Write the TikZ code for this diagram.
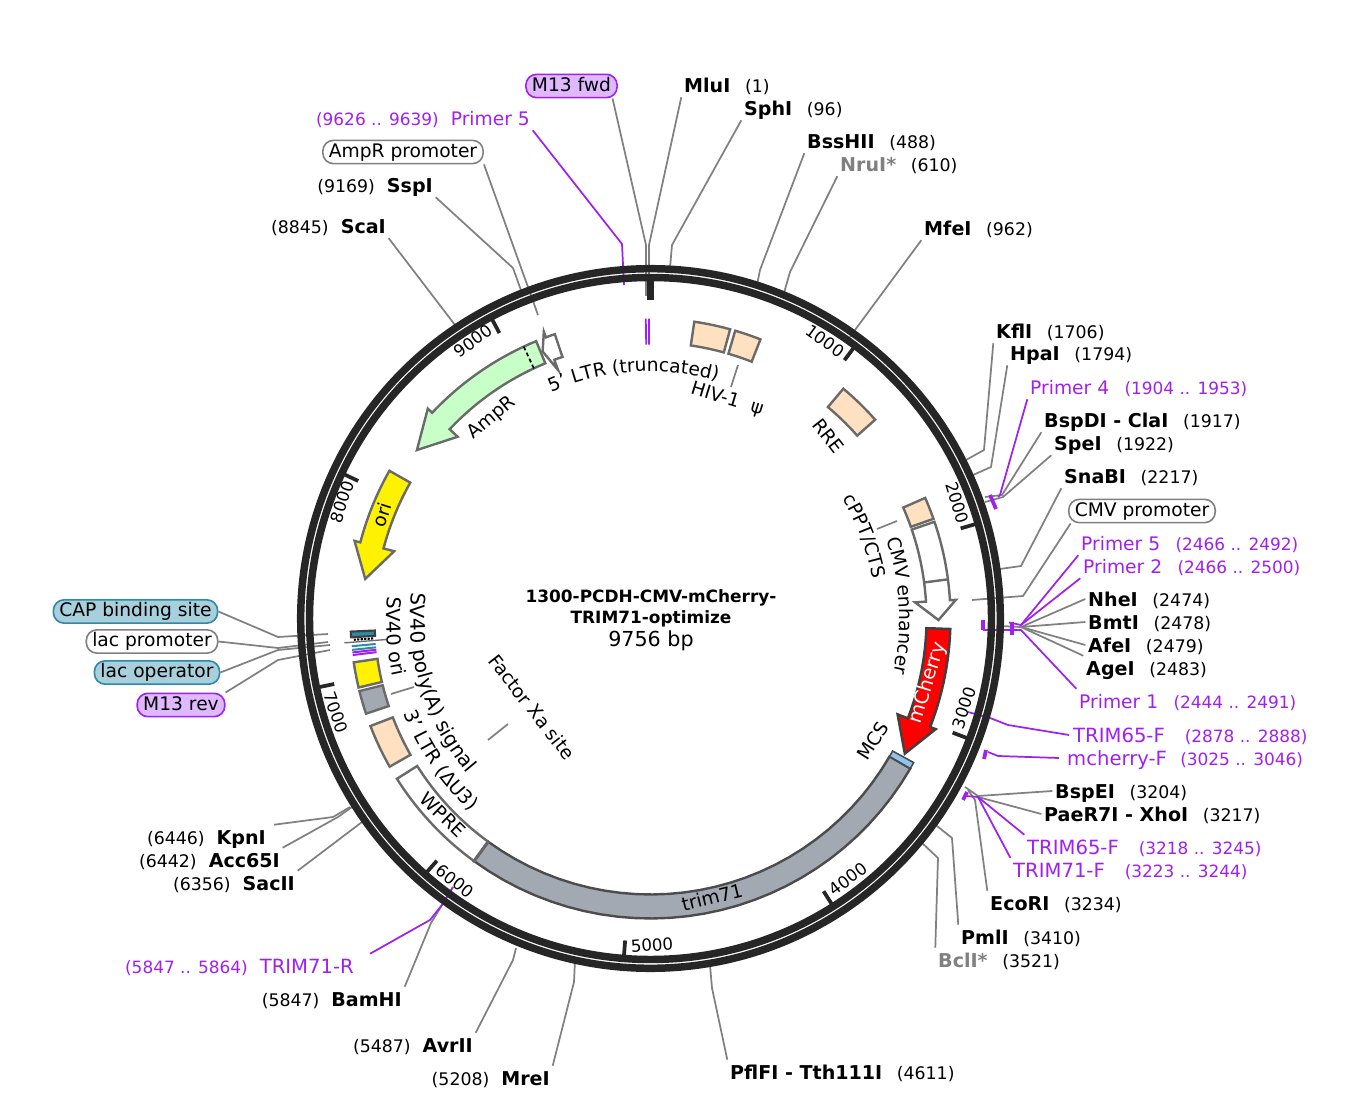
\documentclass[tikz,border=0pt]{standalone}
\usepackage{fontspec}
\setmainfont{DejaVu Sans}
\usetikzlibrary{decorations.text}
\definecolor{leadergray}{HTML}{808080}
\definecolor{primerpurple}{HTML}{A020F0}
\definecolor{strokegray}{HTML}{6A6A6A}
\definecolor{beige}{HTML}{FFE0C0}
\definecolor{ampgreen}{HTML}{C8FFC8}
\definecolor{slategray}{HTML}{A3A9B2}
\definecolor{tealfill}{HTML}{A8CFDC}
\definecolor{tealline}{HTML}{2E8AA5}
\definecolor{pillpurple}{HTML}{E0B8FF}
\definecolor{blueband}{HTML}{8FC4F0}
\newcommand{\ringpt}[2]{({650.5+(#2)*sin(#1)},{618.5-(#2)*cos(#1)})}
\newcommand{\feature}[3][]{\draw[#1] plot[domain=#2:#3,samples=30] ({650.5+300*sin(\x)},{618.5-300*cos(\x)})
    -- plot[domain=#3:#2,samples=30] ({650.5+276*sin(\x)},{618.5-276*cos(\x)}) -- cycle;}
\newcommand{\featurearrow}[4][]{\draw[#1] plot[domain=#2:#3,samples=30] ({650.5+300*sin(\x)},{618.5-300*cos(\x)})
    -- ({650.5+306*sin(#3)},{618.5-306*cos(#3)}) -- ({650.5+288*sin(#4)},{618.5-288*cos(#4)})
    -- ({650.5+265*sin(#3)},{618.5-265*cos(#3)})
    -- plot[domain=#3:#2,samples=30] ({650.5+276*sin(\x)},{618.5-276*cos(\x)}) -- cycle;}
\newcommand{\arctext}[5][14]{\path[decorate,decoration={text along path,text align=center,
    text={|\fontsize{#1}{16}\selectfont|#2}}] plot[domain=#3:#4,samples=40] ({650.5+#5*sin(\x)},{618.5-#5*cos(\x)});}
\newcommand{\posr}[2][11pt]{\hspace{#1}{\mdseries\fontsize{13}{16}\selectfont #2}}
\newcommand{\posl}[2][9pt]{{\mdseries\fontsize{13}{16}\selectfont #2}\hspace{#1}}
\newcommand{\spanr}[2][11.5pt]{\hspace{#1}{\fontsize{12.7}{16}\selectfont #2}}
\newcommand{\spanl}[2][9pt]{{\fontsize{12.7}{16}\selectfont #2}\hspace{#1}}
\tikzset{
    namelab/.style={inner xsep=2pt,inner ysep=0.5pt,text height=14pt,text depth=3pt,font=\fontsize{14}{16}\selectfont},
    siteR/.style={namelab,anchor=west,font=\fontsize{14.3}{16}\selectfont\bfseries},
    siteL/.style={namelab,anchor=east,font=\fontsize{14.3}{16}\selectfont\bfseries},
    primerR/.style={namelab,anchor=west,text=primerpurple},
    primerL/.style={namelab,anchor=east,text=primerpurple},
    trimname/.style={font=\fontsize{14.7}{16}\selectfont},
    pill/.style={draw,rounded corners=8pt,line width=1.2pt,inner xsep=4.5pt,inner ysep=0pt,
        minimum height=17.5pt,text height=11.2pt,text depth=3pt,font=\fontsize{14}{16}\selectfont},
    leader/.style={draw=leadergray,line width=1.3pt,line join=round},
    primerline/.style={draw=primerpurple,line width=1.3pt,line join=round},
    primertick/.style={draw=primerpurple,line width=2.8pt},
    band/.style={draw=strokegray,line width=1.8pt,line join=miter},
    featlab/.style={font=\fontsize{14}{16}\selectfont,inner sep=0pt},
    ticklab/.style={font=\fontsize{12.5}{15}\selectfont,inner sep=0pt}
}
\begin{document}
\begin{tikzpicture}[x=0.75pt,y=-0.75pt]
    \useasboundingbox (0,0) rectangle (1347,1112);
    % labels, clockwise from the top
    \node[pill,draw=primerpurple,fill=pillpurple] (mfwd) at (571.5,86) {M13 fwd};
    \node[siteR] (mlui) at (681.3,85) {MluI\posr{(1)}};
    \node[siteR] (sphi) at (741.3,108) {SphI\posr{(96)}};
    \node[siteR] (bsshii) at (804.3,141) {BssHII\posr{(488)}};
    \node[siteR] (nrui) at (837.3,164) {\textcolor{leadergray}{NruI*}\posr{(610)}};
    \node[siteR] (mfei) at (921.3,228) {MfeI\posr{(962)}};
    \node[siteR] (kfli) at (993.3,331) {KflI\posr{(1706)}};
    \node[siteR] (hpai) at (1007.3,353) {HpaI\posr{(1794)}};
    \node[primerR] (primerfour) at (1027.3,387) {Primer 4\spanr{(1904 .. 1953)}};
    \node[siteR] (bspdi) at (1041.3,420) {BspDI - ClaI\posr{(1917)}};
    \node[siteR] (spei) at (1051.3,443) {SpeI\posr{(1922)}};
    \node[siteR] (snabi) at (1061.3,476) {SnaBI\posr{(2217)}};
    \node[pill,draw=leadergray,fill=white] (cmvprom) at (1142,511) {CMV promoter};
    \node[primerR] (primerfiveb) at (1078.3,543) {Primer 5\spanr{(2466 .. 2492)}};
    \node[primerR] (primertwo) at (1080.3,566) {Primer 2\spanr{(2466 .. 2500)}};
    \node[siteR] (nhei) at (1085.3,599) {NheI\posr{(2474)}};
    \node[siteR] (bmti) at (1085.3,622) {BmtI\posr{(2478)}};
    \node[siteR] (afei) at (1085.3,645) {AfeI\posr{(2479)}};
    \node[siteR] (agei) at (1083.3,668) {AgeI\posr{(2483)}};
    \node[primerR] (primerone) at (1076.3,701) {Primer 1\spanr{(2444 .. 2491)}};
    \node[primerR,trimname] (trimsixa) at (1070.3,735) {TRIM65-F\spanr[15pt]{(2878 .. 2888)}};
    \node[primerR,trimname] (mcherryf) at (1064.3,758) {mcherry-F\spanr[10pt]{(3025 .. 3046)}};
    \node[siteR] (bspei) at (1052.3,791) {BspEI\posr{(3204)}};
    \node[siteR] (paer) at (1041.3,814) {PaeR7I - XhoI\posr{(3217)}};
    \node[primerR,trimname] (trimsixb) at (1024.3,847) {TRIM65-F\spanr[15pt]{(3218 .. 3245)}};
    \node[primerR,trimname] (trimsevf) at (1010.3,870) {TRIM71-F\spanr[15pt]{(3223 .. 3244)}};
    \node[siteR] (ecori) at (987.3,903) {EcoRI\posr{(3234)}};
    \node[siteR] (pmli) at (958.3,937) {PmlI\posr{(3410)}};
    \node[siteR] (bcli) at (935.3,960) {\textcolor{leadergray}{BclI*}\posr{(3521)}};
    \node[siteR] (pflfi) at (727.3,1072) {PflFI - Tth111I\posr{(4611)}};
    \node[siteL] (mrei) at (552.7,1078) {\posl{(5208)}MreI};
    \node[siteL] (avrii) at (475.7,1045) {\posl{(5487)}AvrII};
    \node[siteL] (bamhi) at (404.7,999) {\posl{(5847)}BamHI};
    \node[primerL,trimname] (trimsevr) at (356.7,966) {\spanl{(5847 .. 5864)}TRIM71-R};
    \node[siteL] (sacii) at (297.7,883) {\posl{(6356)}SacII};
    \node[siteL] (acc) at (282.7,860) {\posl{(6442)}Acc65I};
    \node[siteL] (kpni) at (268.7,837) {\posl{(6446)}KpnI};
    \node[pill,draw=primerpurple,fill=pillpurple] (mrev) at (181,705) {M13 rev};
    \node[pill,draw=tealline,fill=tealfill] (lacop) at (157,672.5) {lac operator};
    \node[pill,draw=leadergray,fill=white] (lacprom) at (152,641.5) {lac promoter};
    \node[pill,draw=tealline,fill=tealfill] (cap) at (135.5,611.5) {CAP binding site};
    \node[siteL] (scai) at (388.7,226) {\posl{(8845)}ScaI};
    \node[siteL] (sspi) at (435.7,185) {\posl{(9169)}SspI};
    \node[pill,draw=leadergray,fill=white] (ampprom) at (403,152) {AmpR promoter};
    \node[primerL] (primerfivea) at (532.7,118) {\spanl{(9626 .. 9639)}Primer 5};
    % where the leaders land
    \coordinate (mfwdsite) at (646,296);
    \coordinate (mluisite) at (649,296);
    \coordinate (sphisite) at (670,268);
    \coordinate (bsshiisite) at (757,285);
    \coordinate (nruisite) at (784,293);
    \coordinate (mfeisite) at (850,337);
    \coordinate (kflisite) at (966,460);
    \coordinate (hpaisite) at (973,475);
    \coordinate (bspdisite) at (985,497);
    \coordinate (speisite) at (985,502);
    \coordinate (snabisite) at (1000,569);
    \coordinate (cmvsite) at (972,600);
    \coordinate (bankgray) at (1021,627);
    \coordinate (bspeisite) at (965,787);
    \coordinate (ecorisite) at (968,790);
    \coordinate (pmlisite) at (932,822);
    \coordinate (bclisite) at (921,842);
    \coordinate (pflfisite) at (710,965);
    \coordinate (mreisite) at (575,960);
    \coordinate (avriisite) at (516,948);
    \coordinate (bamhisite) at (453,887);
    \coordinate (saciisite) at (362,822);
    \coordinate (accsite) at (352,807);
    \coordinate (kpnisite) at (350,807);
    \coordinate (mrevsite) at (330,650);
    \coordinate (lacopsite) at (330,645);
    \coordinate (lacpromsite) at (328,642);
    \coordinate (capsite) at (328,634);
    \coordinate (scaisite) at (455,325);
    \coordinate (sspisite) at (522,293);
    \coordinate (amppromsite) at (538,315);
    % gray leaders
    \draw[leader] ([xshift=-4pt]mfwd.south east) -- (646,245) -- (mfwdsite);
    \draw[leader] (mlui.south west) -- (649,245) -- (mluisite);
    \draw[leader] (sphi.south west) -- (672,245) -- (sphisite);
    \draw[leader] (bsshii.south west) -- (760,270) -- (bsshiisite);
    \draw[leader] (nrui.south west) -- (790,272) -- (nruisite);
    \draw[leader] (mfei.south west) -- (855,330) -- (mfeisite);
    \draw[leader] (kfli.south west) -- (984,450) -- (kflisite);
    \draw[leader] (hpai.south west) -- (991,467) -- (hpaisite);
    \draw[leader] (bspdi.south west) -- (1002,495) -- (bspdisite);
    \draw[leader] (spei.south west) -- (1003,497) -- (speisite);
    \draw[leader] (snabi.south west) -- (1021,566) -- (snabisite);
    \draw[leader] ([xshift=2pt]cmvprom.south west) -- (1023,596) -- (cmvsite);
    \draw[leader] (nhei.west) -- (bankgray) -- (1000,626);
    \draw[leader] (bmti.west) -- (bankgray);
    \draw[leader] (afei.west) -- (bankgray);
    \draw[leader] (agei.north west) -- (bankgray);
    \draw[leader] (bspei.west) -- (978,796) -- (bspeisite);
    \draw[leader] (paer.west) -- (978,797);
    \draw[leader] (ecori.north west) -- (975,800) -- (ecorisite);
    \draw[leader] (pmli.north west) -- (952,838) -- (pmlisite);
    \draw[leader] (bcli.north west) -- (938,858) -- (bclisite);
    \draw[leader] (pflfi.north west) -- (712,988) -- (pflfisite);
    \draw[leader] (mrei.north east) -- (574,982) -- (mreisite);
    \draw[leader] (avrii.north east) -- (513,960) -- (avriisite);
    \draw[leader] (bamhi.north east) -- (431,923) -- (bamhisite);
    \draw[leader] (sacii.north east) -- (saciisite);
    \draw[leader] (acc.north east) -- (338,817) -- (accsite);
    \draw[leader] ([xshift=4pt]kpni.north east) -- (333,817) -- (kpnisite);
    \draw[leader] (mrev.north east) -- (278,660) -- (mrevsite);
    \draw[leader] (lacop.east) -- (278,650) -- (lacopsite);
    \draw[leader] (lacprom.east) -- (278,648) -- (lacpromsite);
    \draw[leader] (cap.east) -- (278,637) -- (capsite);
    \draw[leader] (scai.south east) -- (scaisite);
    \draw[leader] (sspi.south east) -- (513,268) -- (sspisite);
    \draw[leader] (ampprom.south east) -- (amppromsite);
    % primer leaders and their ticks
    \coordinate (primerfiveasite) at (624,285);
    \coordinate (primerfoursite) at (998,497);
    \coordinate (primerbank) at (1021,625);
    \coordinate (primeronesite) at (983,630);
    \coordinate (trimsixasite) at (968,712);
    \coordinate (mcherrysite) at (988,752);
    \coordinate (trimbank) at (978,797);
    \coordinate (trimsevrsite) at (453,887);
    \draw[primerline] (primerfivea.south east) -- (622,244) -- (primerfiveasite);
    \draw[primerline] (primerfour.south west) -- (1000,495) -- (primerfoursite);
    \draw[primerline] (primerfiveb.south west) -- (primerbank) -- (1009,622.5);
    \draw[primerline] (primertwo.south west) -- (primerbank);
    \draw[primerline] (primerone.north west) -- (1021,630) -- (primeronesite);
    \draw[primerline] ([xshift=-1pt]trimsixa.west) -- (1008,725) -- (990,718) -- (trimsixasite);
    \draw[primerline] ([xshift=-4pt]mcherryf.west) -- (998,756) -- (mcherrysite);
    \draw[primerline] (trimsixb.north west) -- (trimbank) -- (966,796);
    \draw[primerline] (trimsevf.north west) -- (trimbank);
    \draw[primerline] ([xshift=10pt]trimsevr.north east) -- (430,920) -- (442,905) -- (trimsevrsite);
    \draw[primertick] (990,495) -- (996,509);
    \draw[primertick] (1012,622) -- (1012,635);
    \draw[primertick] (983,620) -- (983,630);
    \draw[primertick] (986,750) -- (984,759);
    \draw[primertick] (963,800) -- (967,792);
    % the ring
    \coordinate (ringc) at (650.5,618.5);
    \draw[line width=5.6pt,draw=black!85] (ringc) circle [radius=349.8];
    \draw[line width=5.6pt,draw=black!85] (ringc) circle [radius=341];
    \draw[line width=5.2pt,draw=black!85] \ringpt{0}{318} -- \ringpt{0}{338};
    \foreach \tk/\tx/\ty/\rot in {1000/825/341/-36,2000/957/503/-73,3000/964/708/72,4000/848/879/37,
            5000/652/945/4,6000/455/881/-39,7000/336/712/-70,8000/342/502/72,9000/473/341/37} {
        \draw[line width=2.8pt,draw=black!85] \ringpt{\tk/9756*360}{323} -- \ringpt{\tk/9756*360}{338};
        \node[ticklab,rotate=\rot] (tick\tk) at (\tx,\ty) {\tk};
    }
    % features
    \featurearrow[band,fill=white]{341.4}{339.6}{338}
    \featurearrow[band,fill=ampgreen]{337.6}{313.3}{305.8}
    \draw[densely dashed,line width=1.3pt] \ringpt{335}{300} -- \ringpt{335}{276};
    \feature[band,fill=beige]{8.4}{15.4}
    \feature[band,fill=beige]{16.4}{21.5}
    \feature[band,fill=beige]{40}{48.5}
    \feature[band,fill=beige]{66.3}{70.6}
    \featurearrow[band,fill=white]{71.2}{86.5}{90.3}
    \draw[band] \ringpt{82.5}{300} -- \ringpt{82.5}{276};
    \feature[band,draw=black!70,fill=slategray]{120}{216}
    \feature[band,draw=black!70,fill=blueband,line width=1.2pt]{118.7}{120}
    \featurearrow[band,draw=black!75,fill=red]{92}{111.2}{118}
    \feature[band,fill=white]{216}{237.7}
    \feature[band,draw=black!60,fill=slategray]{216}{216.1}
    \feature[band,fill=beige]{240.4}{249}
    \feature[band,fill=slategray]{251.5}{256}
    \feature[band,fill=yellow]{256.7}{261.6}
    \draw[line width=1.5pt,draw=primerpurple] \ringpt{263}{276} -- \ringpt{263}{300};
    \draw[line width=1.5pt,draw=primerpurple] \ringpt{263.5}{276} -- \ringpt{263.5}{300};
    \draw[line width=1.5pt,draw=tealline] \ringpt{264}{276} -- \ringpt{264}{300};
    \draw[line width=1.5pt,draw=tealline] \ringpt{264.7}{276} -- \ringpt{264.7}{300};
    \draw[line width=1pt,draw=strokegray] \ringpt{265.45}{265} -- \ringpt{265.45}{307};
    \draw[line width=1.6pt,densely dotted] \ringpt{265.9}{278} -- \ringpt{265.9}{298};
    \feature[line width=1.6pt,draw=black!75,fill=tealline]{266.4}{267.5}
    \featurearrow[band,fill=yellow]{299.5}{284.7}{277.9}
    \draw[primerline] \ringpt{-0.9}{274} -- \ringpt{-0.9}{300};
    \draw[primerline] \ringpt{-0.3}{274} -- \ringpt{-0.3}{300};
    % feature labels
    \node[featlab,rotate=40] (amprlab) at (492,418) {AmpR};
    \node[featlab,rotate=72] (orilab) at (382,515) {ori};
    \node[featlab,rotate=73,text=white,font=\fontsize{14.6}{16}\selectfont] (cherrylab) at (928,683) {mCherry};
    \node[featlab,rotate=14] (trimlab) at (712,897) {trim71};
    \node[featlab,rotate=-44] (wprelab) at (443,815) {WPRE};
    \node[featlab,rotate=58] (mcslab) at (873,741) {MCS};
    \node[featlab,rotate=-17] (psilab) at (727,400) {HIV-1\hspace{5pt} ψ};
    \node[featlab,rotate=-52] (rrelab) at (828,436) {RRE};
    \node[featlab,rotate=-52] (xalab) at (532,707) {Factor Xa site};
    \arctext{5' LTR (truncated)}{-40}{32}{247}
    \arctext{cPPT/CTS}{48}{90}{226}
    \arctext{CMV enhancer}{60}{114}{249}
    \arctext[15]{SV40 poly(A) signal}{290}{216}{240}
    \arctext[14.5]{SV40 ori}{285}{247}{264}
    \arctext[14.3]{3' LTR (ΔU3)}{258}{214}{264}
    \coordinate (psitip) at (731,387);
    \coordinate (psifoot) at (738,365);
    \coordinate (cpptfoot) at (897,521);
    \coordinate (cppttip) at (877,529);
    \coordinate (polyfoot) at (391,694);
    \coordinate (polytip) at (414,687);
    \coordinate (xatip) at (508,724);
    \coordinate (xafoot) at (488,740);
    \draw[leader] (psifoot) -- (psitip);
    \draw[leader] (cpptfoot) -- (cppttip);
    \draw[leader] (polyfoot) -- (polytip);
    \draw[leader] (xafoot) -- (xatip);
    % the title
    \node[align=center,inner sep=0pt,font=\fontsize{12.7}{16}\selectfont\bfseries] (title) at (651,620)
        {1300-PCDH-CMV-mCherry-\\ TRIM71-optimize\\[1pt] {\fontsize{15.5}{18}\selectfont\mdseries 9756 bp}};
\end{tikzpicture}
\end{document}
